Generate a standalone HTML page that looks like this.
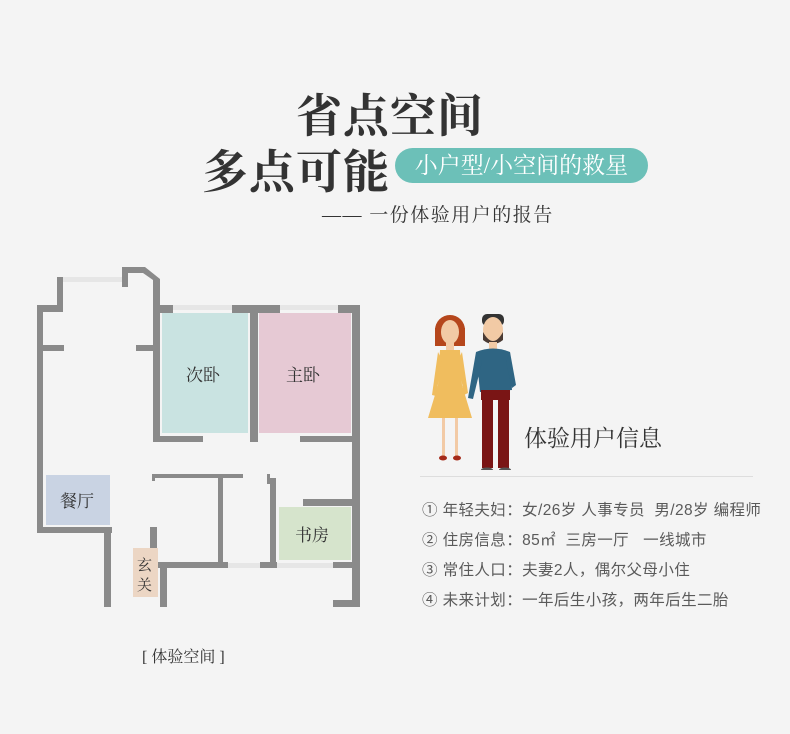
<!DOCTYPE html>
<html><head><meta charset="utf-8"><style>
body{margin:0;width:790px;height:734px;background:#f4f4f4;position:relative;overflow:hidden;font-family:"Liberation Sans","Noto Sans CJK SC",sans-serif}
.a{position:absolute;white-space:nowrap}
.serif{font-family:"Liberation Serif","Noto Serif CJK SC",serif}
.info{font-size:15.5px;color:#5a5a5a;left:422px;letter-spacing:0.4px}
</style></head><body>
<div class="a serif" style="left:296px;top:80px;font-size:46px;font-weight:bold;color:#333;letter-spacing:1px">省点空间</div>
<div class="a serif" style="left:202px;top:136px;font-size:46px;font-weight:bold;color:#333;letter-spacing:1px">多点可能</div>
<div class="a" style="left:395px;top:148px;width:253px;height:35px;border-radius:18px;background:#6cc0b8;color:#fff;font-size:23px;line-height:35px;text-align:center"><span class="serif">小户型/小空间的救星</span></div>
<div class="a serif" style="left:322px;top:200px;font-size:19px;color:#333;letter-spacing:1.5px">—— 一份体验用户的报告</div>

<svg class="a" style="left:0;top:0" width="380" height="620">
<g fill="#e6e6e6"><rect x="63" y="277" width="59" height="5"/><rect x="173" y="305" width="59" height="5"/><rect x="280" y="305" width="58" height="5"/><rect x="228" y="563" width="32" height="5"/><rect x="277" y="563" width="56" height="5"/></g>
<rect x="162" y="313" width="86" height="120" fill="#c9e3e1"/>
<rect x="259" y="313" width="92" height="120" fill="#e6c9d4"/>
<rect x="46" y="475" width="64" height="50" fill="#c9d3e3"/>
<rect x="279" y="507" width="72" height="53" fill="#d6e4cc"/>
<rect x="133" y="548" width="25" height="49" fill="#ecd6c4"/>
<g fill="#8a8a8a">
<rect x="37" y="305" width="6" height="228"/>
<rect x="37" y="527" width="75" height="6"/>
<rect x="104" y="527" width="7" height="80"/>
<rect x="37" y="305" width="26" height="7"/>
<rect x="57" y="277" width="6" height="35"/>
<rect x="122" y="268" width="6" height="19"/>
<polygon points="122,267 145,267 160,279 160,284 153,284 153,280 143,273 122,273"/>
<rect x="153" y="280" width="7" height="162"/>
<rect x="43" y="345" width="21" height="6"/>
<rect x="136" y="345" width="17" height="6"/>
<rect x="153" y="305" width="20" height="8"/><rect x="232" y="305" width="48" height="8"/><rect x="338" y="305" width="22" height="8"/>
<rect x="352" y="305" width="8" height="302"/>
<rect x="153" y="436" width="50" height="6"/>
<rect x="250" y="305" width="8" height="137"/>
<rect x="300" y="436" width="60" height="6"/>
<rect x="152" y="474" width="91" height="4"/>
<rect x="152" y="474" width="3" height="7"/>
<rect x="218" y="474" width="5" height="89"/>
<rect x="267" y="474" width="3" height="10"/>
<rect x="270" y="478" width="6" height="85"/>
<rect x="303" y="499" width="57" height="7"/>
<rect x="158" y="562" width="70" height="6"/><rect x="260" y="562" width="17" height="6"/><rect x="333" y="562" width="27" height="6"/>
<rect x="150" y="527" width="7" height="21"/>
<rect x="160" y="562" width="7" height="45"/>
<rect x="333" y="600" width="27" height="7"/>
</g>
<g font-family="Liberation Serif,Noto Serif CJK SC,serif" font-size="17" fill="#333">
<text x="186" y="381">次卧</text><text x="286" y="381">主卧</text>
<text x="60" y="507">餐厅</text><text x="295" y="541">书房</text>
<text x="137" y="570" font-size="15">玄</text><text x="137" y="590" font-size="15">关</text>
</g>
</svg>
<div class="a serif" style="left:142px;top:644px;font-size:16px;color:#333">[ 体验空间 ]</div>

<svg class="a" style="left:410px;top:300px" width="115" height="170">
<circle cx="40" cy="30" r="15" fill="#b5461c"/><rect x="25" y="28" width="30" height="18" fill="#b5461c"/>
<ellipse cx="40" cy="32" rx="9" ry="12" fill="#f2caa5"/>
<rect x="36" y="42" width="8" height="8" fill="#f2caa5"/>
<path d="M30 50 L50 50 L52 85 L62 118 L18 118 L28 85 Z" fill="#f0bd5e"/>
<path d="M28 52 L22 95 L26 96 L32 60Z M52 52 L58 93 L54 95 L48 60Z" fill="#f0bd5e"/>
<rect x="32" y="118" width="3" height="38" fill="#f2caa5"/><rect x="45" y="118" width="3" height="38" fill="#f2caa5"/>
<ellipse cx="33" cy="158" rx="4" ry="2.5" fill="#a52b1a"/><ellipse cx="47" cy="158" rx="4" ry="2.5" fill="#a52b1a"/>
<rect x="72" y="14" width="22" height="12" rx="5" fill="#333"/>
<ellipse cx="83" cy="30" rx="10" ry="13" fill="#f2caa5"/>
<path d="M73 32 Q83 50 93 32 L93 40 Q83 48 73 40Z" fill="#4a3a33"/>
<rect x="79" y="42" width="8" height="8" fill="#f2caa5"/>
<path d="M66 52 Q83 45 100 52 L102 90 L70 92 Z" fill="#2f6583"/>
<path d="M66 52 L58 98 L63 99 L72 62Z M100 52 L106 85 L102 88 L96 62Z" fill="#2f6583"/>
<rect x="71" y="90" width="29" height="10" fill="#7a1515"/>
<rect x="72" y="98" width="11" height="70" fill="#7a1515"/><rect x="88" y="98" width="11" height="70" fill="#7a1515"/>
<ellipse cx="77" cy="170" rx="6" ry="2.5" fill="#555"/><ellipse cx="95" cy="170" rx="6" ry="2.5" fill="#555"/>
</svg>
<div class="a serif" style="left:524px;top:420px;font-size:23px;color:#333">体验用户信息</div>
<div class="a" style="left:420px;top:476px;width:333px;height:1px;background:#ddd"></div>
<div class="a info" style="top:498px">① 年轻夫妇：女/26岁 人事专员&nbsp;&nbsp;男/28岁 编程师</div>
<div class="a info" style="top:528px">② 住房信息：85㎡&nbsp;&nbsp;三房一厅&nbsp;&nbsp;&nbsp;一线城市</div>
<div class="a info" style="top:558px">③ 常住人口：夫妻2人，偶尔父母小住</div>
<div class="a info" style="top:588px">④ 未来计划：一年后生小孩，两年后生二胎</div>
</body></html>
